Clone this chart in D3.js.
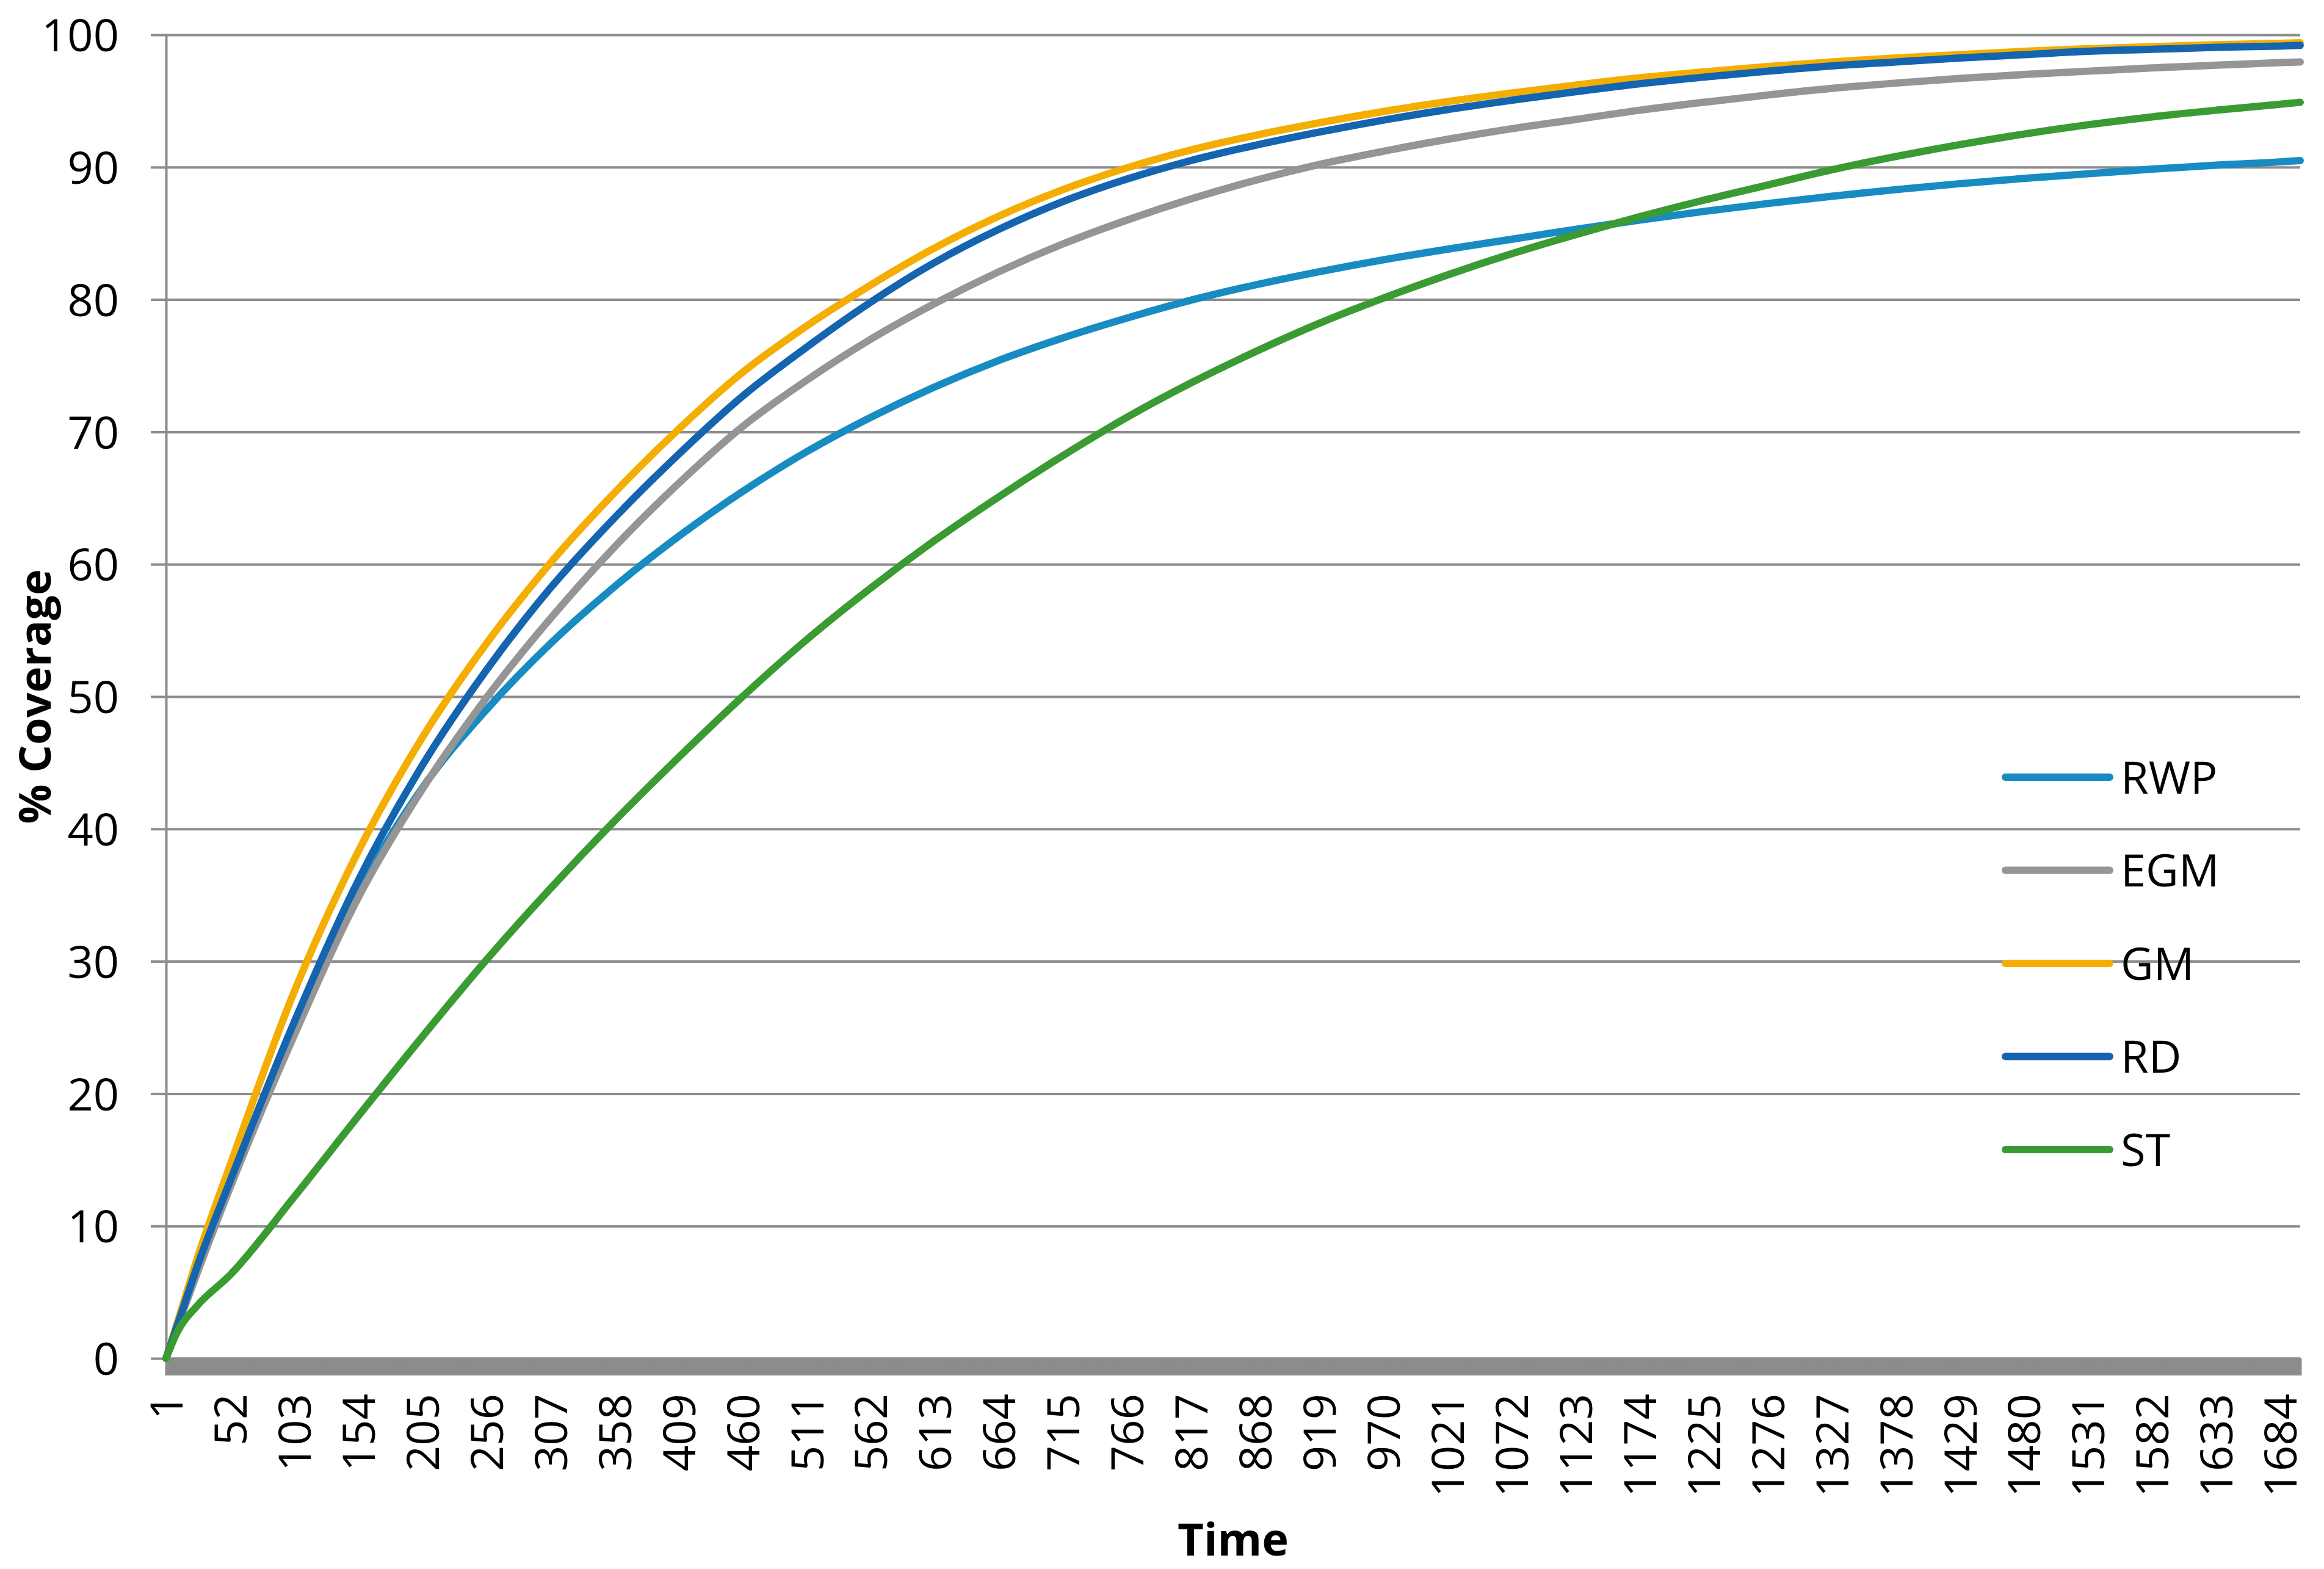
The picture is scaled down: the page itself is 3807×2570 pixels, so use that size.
<!DOCTYPE html>
<meta charset="utf-8">
<head>
  <title>% Coverage over Time</title>
</head>
<style>
body { margin: 0; background: #fff; }
text { font-family: "Open Sans", "Noto Sans", sans-serif; fill: #000; }
.grid line { stroke: #8c8c8c; stroke-width: 4px; }
.grid path { display: none; }
.axis path, .axis line { stroke: #8c8c8c; stroke-width: 4px; }
.series { fill: none; stroke-width: 12px; stroke-linejoin: round; stroke-linecap: round; }
</style>
<body>
<script src="https://cdn.jsdelivr.net/npm/d3@7"></script>
<script>

  var width = 3807,
      height = 2570;

  var time = [1, 10, 26, 52, 103, 154, 205, 256, 307, 358, 409, 460, 511, 562, 613, 664, 715, 766, 817,
              868, 919, 970, 1021, 1072, 1123, 1174, 1225, 1276, 1327, 1378, 1429, 1480, 1531, 1582,
              1633, 1684, 1700];

  // category labels shown on the x axis
  var timeLabels = [1, 52, 103, 154, 205, 256, 307, 358, 409, 460, 511, 562, 613, 664, 715, 766, 817,
                    868, 919, 970, 1021, 1072, 1123, 1174, 1225, 1276, 1327, 1378, 1429, 1480, 1531,
                    1582, 1633, 1684];

  var yTicks = [0, 10, 20, 30, 40, 50, 60, 70, 80, 90, 100];

  // % coverage per method
  var rwp = [0, 2.5, 7.0, 13.2, 24.6, 35.2, 43.1, 49.0, 54.0, 58.3, 62.1, 65.5, 68.5, 71.1, 73.4, 75.4,
             77.1, 78.6, 79.95, 81.1, 82.1, 83.0, 83.8, 84.55, 85.3, 86.0, 86.65, 87.25, 87.8, 88.3,
             88.75, 89.15, 89.5, 89.85, 90.15, 90.4, 90.5];
  var egm = [0, 2.4, 6.5, 12.9, 24.4, 34.8, 43.0, 49.9, 55.9, 61.3, 66.1, 70.4, 73.9, 77.0, 79.7, 82.1,
             84.2, 86.0, 87.6, 89.0, 90.2, 91.2, 92.1, 92.9, 93.6, 94.3, 94.9, 95.45, 95.95, 96.35, 96.7,
             97.0, 97.25, 97.5, 97.7, 97.9, 97.95];
  var gm  = [0, 2.7, 7.6, 14.6, 27.7, 38.3, 46.9, 54.0, 60.1, 65.4, 70.2, 74.5, 78.0, 81.1, 83.9, 86.3,
             88.3, 89.95, 91.3, 92.4, 93.35, 94.2, 94.95, 95.6, 96.2, 96.75, 97.2, 97.6, 97.95, 98.25,
             98.5, 98.75, 98.95, 99.1, 99.25, 99.35, 99.4];
  var rd  = [0, 2.5, 7.0, 13.4, 25.4, 36.1, 44.8, 52.0, 58.2, 63.5, 68.3, 72.7, 76.4, 79.8, 82.8, 85.3,
             87.4, 89.1, 90.5, 91.65, 92.65, 93.55, 94.35, 95.05, 95.7, 96.3, 96.8, 97.25, 97.65, 97.95,
             98.25, 98.5, 98.75, 98.9, 99.05, 99.15, 99.2];
  var st  = [0, 2.0, 4.0, 6.3, 12.2, 18.3, 24.3, 30.1, 35.5, 40.6, 45.4, 50.0, 54.3, 58.2, 61.8, 65.1,
             68.2, 71.1, 73.7, 76.05, 78.2, 80.1, 81.85, 83.45, 84.9, 86.25, 87.5, 88.65, 89.8, 90.8,
             91.7, 92.5, 93.2, 93.8, 94.3, 94.75, 94.9];

  var seriesNames  = ["RWP", "EGM", "GM", "RD", "ST"];
  var seriesValues = [rwp, egm, gm, rd, st];
  var seriesColors = ["#188cc2", "#959595", "#f4ae01", "#1464b0", "#3b9b33"];

  var plotLeft = 272, plotRight = 3768, plotTop = 57, plotBottom = 2225;

  var svg = d3.select("body").append("svg")
      .attr("width", width)
      .attr("height", height);

  var x = d3.scaleLinear().domain([1, 1700]).range([plotLeft, plotRight]);
  var y = d3.scaleLinear().domain([0, 100]).range([plotBottom, plotTop]);

  // horizontal gridlines
  svg.append("g")
      .attr("class", "grid")
      .attr("transform", "translate(" + plotLeft + ",0)")
      .call(d3.axisLeft(y).tickValues(yTicks).tickSize(-(plotRight - plotLeft)).tickFormat(""));

  // y axis with outside ticks
  var yAxis = svg.append("g")
      .attr("class", "axis")
      .attr("transform", "translate(" + plotLeft + ",0)")
      .call(d3.axisLeft(y).tickValues(yTicks).tickSize(25).tickSizeOuter(0).tickPadding(52));
  yAxis.selectAll("text")
      .style("font-size", "74px")
      .attr("dy", "0.36em");

  // x axis: a tick mark at every category, which merges into a solid band
  svg.append("g")
      .attr("class", "axis")
      .attr("transform", "translate(0," + plotBottom + ")")
      .call(d3.axisBottom(x).tickValues(d3.range(1, 1701)).tickSize(28).tickSizeOuter(0).tickFormat(""));

  // x category labels, rotated
  var xLab = svg.append("g")
      .attr("transform", "translate(0," + (plotBottom + 58) + ")")
      .call(d3.axisBottom(x).tickValues(timeLabels).tickSize(0).tickFormat(d3.format("d")));
  xLab.select(".domain").remove();
  xLab.selectAll("text")
      .style("font-size", "74px")
      .attr("transform", "rotate(-90)")
      .attr("text-anchor", "end")
      .attr("x", 0)
      .attr("y", 0)
      .attr("dy", "0.36em");

  // lines
  var line = d3.line()
      .x(function(d, i) { return x(time[i]); })
      .y(function(d) { return y(d); })
      .curve(d3.curveMonotoneX);

  svg.selectAll(".series")
      .data(seriesValues)
      .enter().append("path")
      .attr("class", "series")
      .attr("stroke", function(d, i) { return seriesColors[i]; })
      .attr("d", line);

  // legend
  var legend = svg.selectAll(".legend")
      .data(seriesNames)
      .enter().append("g")
      .attr("class", "legend")
      .attr("transform", function(d, i) { return "translate(3285," + (1273 + i * 152.5) + ")"; });
  legend.append("line")
      .attr("x1", 0).attr("x2", 171)
      .attr("stroke", function(d, i) { return seriesColors[i]; })
      .attr("stroke-width", 12)
      .attr("stroke-linecap", "round");
  legend.append("text")
      .attr("x", 189)
      .attr("dy", "0.36em")
      .style("font-size", "74px")
      .text(function(d) { return d; });

  // axis titles
  svg.append("text")
      .attr("transform", "translate(83," + ((plotTop + plotBottom) / 2) + ") rotate(-90)")
      .attr("text-anchor", "middle")
      .style("font-size", "72px")
      .style("font-weight", "bold")
      .text("% Coverage");

  svg.append("text")
      .attr("x", (plotLeft + plotRight) / 2)
      .attr("y", 2548)
      .attr("text-anchor", "middle")
      .style("font-size", "74px")
      .style("font-weight", "bold")
      .text("Time");

</script>
</body>
